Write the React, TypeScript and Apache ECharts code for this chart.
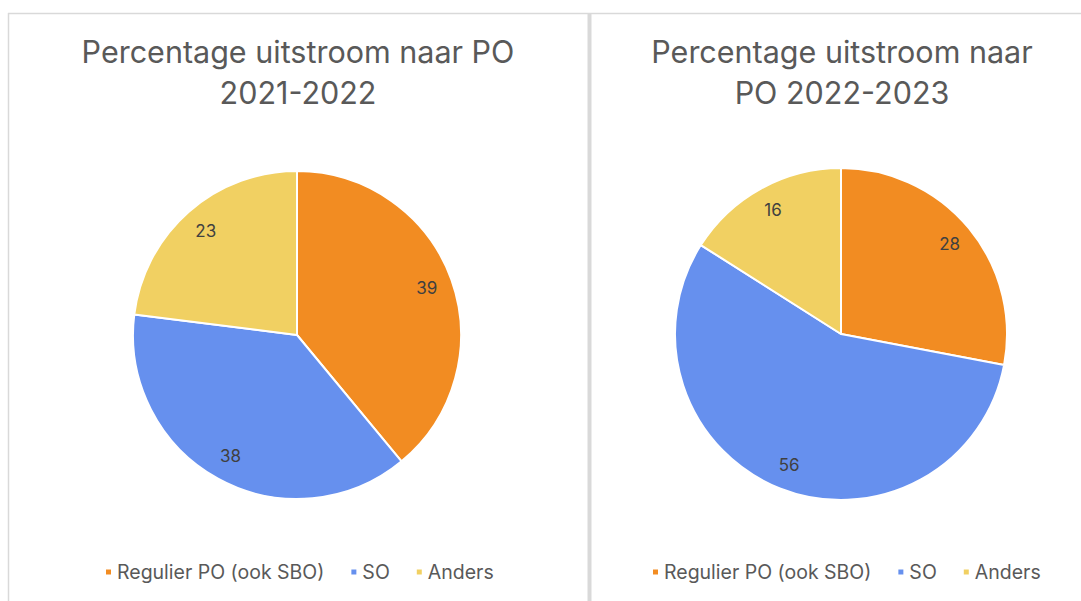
import React, { useEffect, useRef } from "react";
import * as echarts from "echarts";

const categories = ["Regulier PO (ook SBO)", "SO", "Anders"];
const values2122 = [39, 38, 23];
const values2223 = [28, 56, 16];
const colors = ["#F28C22", "#6690EE", "#F1D062"];
const title1 = "Percentage uitstroom naar PO\n2021-2022";
const title2 = "Percentage uitstroom naar\nPO 2022-2023";

const FONT = "Inter";

export default function App() {
  const ref = useRef<HTMLDivElement>(null);
  useEffect(() => {
    if (!ref.current) return;
    const chart = echarts.init(ref.current, null, { renderer: "svg" });
    const mk = (vals: number[]) =>
      categories.map((c, i) => ({ name: c, value: vals[i], itemStyle: { color: colors[i] } }));
    const pieBase = (center: [number, number], r: number, vals: number[]) => ({
      type: "pie",
      center,
      radius: [0, r],
      startAngle: 90,
      clockwise: true,
      silent: true,
      label: { show: false },
      labelLine: { show: false },
      itemStyle: { borderColor: "#ffffff", borderWidth: 2 },
      data: mk(vals),
    });
    const pieLabels = (center: [number, number], r0: number, r: number, vals: number[]) => ({
      type: "pie",
      center,
      radius: [r0, r],
      startAngle: 90,
      clockwise: true,
      silent: true,
      itemStyle: { color: "transparent", borderWidth: 0 },
      label: {
        show: true,
        position: "inside",
        formatter: "{c}",
        color: "#404040",
        fontSize: 17,
        fontFamily: FONT,
      },
      labelLine: { show: false },
      data: categories.map((c, i) => ({ name: c, value: vals[i], itemStyle: { color: "transparent" } })),
    });
    const legendBase = (left: number) => ({
      left,
      top: 557,
      orient: "horizontal",
      icon: "rect",
      itemWidth: 7,
      itemHeight: 7,
      itemGap: 25,
      selectedMode: false,
      data: categories,
      textStyle: { color: "#595959", fontSize: 19.5, fontFamily: FONT },
    });
    const titleStyle = { color: "#595959", fontSize: 30.5, fontWeight: "normal", fontFamily: FONT, lineHeight: 41 };
    chart.setOption({
      animation: false,
      backgroundColor: "#ffffff",
      title: [
        { text: title1, left: 293, top: 26, textAlign: "center", textStyle: titleStyle },
        { text: title2, left: 837, top: 26, textAlign: "center", textStyle: titleStyle },
      ],
      legend: [legendBase(99), legendBase(646)],
      graphic: [
        { type: "line", shape: { x1: 8, y1: 13.5, x2: 1081, y2: 13.5 }, style: { stroke: "#d9d9d9", lineWidth: 1.5 } },
        { type: "line", shape: { x1: 8.5, y1: 13, x2: 8.5, y2: 601 }, style: { stroke: "#d9d9d9", lineWidth: 1.5 } },
        { type: "line", shape: { x1: 589.5, y1: 13, x2: 589.5, y2: 601 }, style: { stroke: "#d9d9d9", lineWidth: 4 } },
      ],
      series: [
        pieBase([297, 335], 164, values2122),
        pieLabels([297, 335], 106, 164, values2122),
        pieBase([841, 334], 166, values2223),
        pieLabels([841, 334], 110, 166, values2223),
      ],
    });
    return () => chart.dispose();
  }, []);
  return <div ref={ref} style={{ position: "fixed", left: 0, top: 0, width: 1081, height: 601 }} />;
}
